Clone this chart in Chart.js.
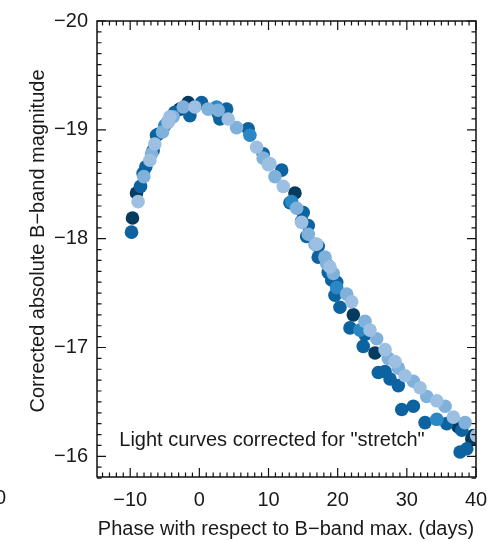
<!DOCTYPE html>
<html lang="en">
  <head>
    <meta charset="UTF-8" />
    <title>Corrected light curves</title>
    <script src="https://cdn.jsdelivr.net/npm/chart.js"></script>
    <style>
      body { margin: 0; background: #fff; }
      canvas { display: block; }
    </style>
  </head>
  <body>
    <canvas id="lcChart" width="500" height="542"></canvas>

    <script>
      // axis ticks
      const xTicks = [-10, 0, 10, 20, 30, 40];
      const yTicks = [-20, -19, -18, -17, -16];

      // phases (days) and magnitudes, one pair of arrays per sample
      const navyPhase = [-9.67, -9.09, -2.82, -1.62, 13.82, 22.26, 25.4, 37.45, 39.39, 39.62];
      const navyMag = [-18.19, -18.42, -19.19, -19.25, -18.42, -17.3, -16.95, -16.27, -16.16, -16.19];

      const darkPhase = [-9.81, -8.51, -8.13, -7.74, -6.69, -6.19, -5.96, -4.56, -3.55, -1.37, 0.32, 2.72,
        2.97, 3.94, 7.06, 9.23, 11.9, 13.1, 14.79, 15.02, 15.51, 15.75, 17.19, 17.19, 18.64, 18.64, 19.13,
        19.36, 19.61, 19.86, 20.33, 21.78, 23.7, 23.95, 25.88, 26.85, 27.57, 28.77, 29.26, 30.94, 32.63,
        35.77, 37.95, 37.7, 38.67];
      const darkMag = [-18.06, -18.48, -18.6, -18.66, -18.81, -18.95, -18.96, -19.07, -19.16, -19.13, -19.25, -19.15,
        -19.1, -19.19, -19.01, -18.78, -18.63, -18.33, -18.16, -18.24, -18.02, -18.12, -17.93, -17.83, -17.75, -17.69, -17.62,
        -17.63, -17.48, -17.6, -17.37, -17.18, -17.01, -17.12, -16.77, -16.78, -16.71, -16.65, -16.43, -16.46, -16.31,
        -16.3, -16.24, -16.04, -16.07];

      const midPhase = [-4.99, 2.49, 7.31, 13.34, 19.86, 23.23, 34.33];
      const midMag = [-19.04, -19.21, -18.95, -18.34, -17.55, -17.16, -16.34];

      const lightPhase = [-8.03, -6.92, -5.33, -3.79, -2.34, 1.27, 2.72, 5.38, 9.23, 10.93, 14.07, 15.75,
        16.71, 18.16, 18.41, 19.36, 21.3, 23.95, 25.64, 27.32, 28.77, 30.94, 32.88, 35.53, 38.42];
      const lightMag = [-18.57, -18.78, -18.98, -19.12, -19.21, -19.19, -19.18, -19.02, -18.74, -18.57, -18.28, -18.04,
        -17.95, -17.83, -17.77, -17.68, -17.49, -17.24, -17.08, -16.9, -16.81, -16.69, -16.55, -16.46, -16.31];

      const palePhase = [-8.86, -7.16, -6.44, -4.52, -4.27, -0.65, 4.17, 8.28, 9.96, 10.2, 12.13, 14.79,
        16.96, 18.89, 22.03, 24.67, 26.85, 28.29, 29.74, 31.91, 34.33, 36.73, 40.1];
      const paleMag = [-18.34, -18.72, -18.87, -19.07, -19.12, -19.21, -19.1, -18.84, -18.68, -18.69, -18.48, -18.15,
        -17.95, -17.74, -17.42, -17.16, -16.98, -16.87, -16.74, -16.63, -16.51, -16.36, -16.19];

      const font = "'Liberation Sans', Arial, sans-serif";
      const minus = (v) => String(v).replace("-", "\u2212");
      const pts = (xs, ys) => xs.map((x, i) => ({ x: x, y: ys[i] }));

      // box, inward ticks (major + minor), titles and the note
      const frame = {
        id: "frame",
        afterDraw(chart) {
          const ctx = chart.ctx;
          const a = chart.chartArea;
          const xs = chart.scales.x;
          const ys = chart.scales.y;
          ctx.save();
          ctx.strokeStyle = "#111";
          ctx.lineWidth = 1.5;
          ctx.strokeRect(a.left, a.top, a.right - a.left, a.bottom - a.top);

          ctx.lineWidth = 1.2;
          ctx.beginPath();
          for (let d = -14; d <= 40; d++) {
            const px = xs.getPixelForValue(d);
            const len = d % 10 === 0 ? 9 : 4.5;
            ctx.moveTo(px, a.bottom); ctx.lineTo(px, a.bottom - len);
            ctx.moveTo(px, a.top); ctx.lineTo(px, a.top + len);
          }
          for (let m = 0; m <= 42; m++) {
            const v = -20 + m / 10;
            const py = ys.getPixelForValue(v);
            const len = m % 10 === 0 ? 9 : 4.5;
            ctx.moveTo(a.left, py); ctx.lineTo(a.left + len, py);
            ctx.moveTo(a.right, py); ctx.lineTo(a.right - len, py);
          }
          ctx.stroke();

          ctx.fillStyle = "#1a1a1a";
          ctx.font = "20px " + font;
          ctx.textAlign = "center";
          ctx.textBaseline = "middle";
          ctx.fillText("Phase with respect to B\u2212band max. (days)", 286, 529);
          ctx.fillText("Light curves corrected for \"stretch\"", 272, 440);
          ctx.textAlign = "left";
          ctx.fillText("0", -5, 498);

          ctx.translate(38, 241);
          ctx.rotate(-Math.PI / 2);
          ctx.textAlign = "center";
          ctx.fillText("Corrected absolute B\u2212band magnitude", 0, 0);
          ctx.restore();
        },
      };

      const series = [
        { label: "pale", xs: palePhase, ys: paleMag, color: "#9dc0e2" },
        { label: "light", xs: lightPhase, ys: lightMag, color: "#80b1da" },
        { label: "mid", xs: midPhase, ys: midMag, color: "#2a88c6" },
        { label: "dark", xs: darkPhase, ys: darkMag, color: "#0c63a0" },
        { label: "navy", xs: navyPhase, ys: navyMag, color: "#063b60" },
      ];

      new Chart(document.getElementById("lcChart"), {
        type: "scatter",
        data: {
          datasets: series.map((s, i) => ({
            label: s.label,
            data: pts(s.xs, s.ys),
            backgroundColor: s.color,
            borderWidth: 0,
            pointRadius: 6.8,
            order: i,
          })),
        },
        options: {
          responsive: false,
          animation: false,
          events: [],
          layout: { autoPadding: false, padding: { top: 16, right: 24, left: 0, bottom: 0 } },
          plugins: { legend: { display: false }, tooltip: { enabled: false } },
          scales: {
            x: {
              type: "linear",
              min: -14.8,
              max: 40,
              afterFit: (s) => { s.height = 65; },
              afterBuildTicks: (s) => { s.ticks = xTicks.map((v) => ({ value: v })); },
              grid: { display: false, drawTicks: false },
              border: { display: false },
              ticks: {
                padding: 11,
                color: "#1a1a1a",
                font: { family: font, size: 20 },
                callback: (v) => minus(v),
              },
            },
            y: {
              type: "linear",
              reverse: true,
              min: -20,
              max: -15.81,
              afterFit: (s) => { s.width = 97; },
              afterBuildTicks: (s) => { s.ticks = yTicks.map((v) => ({ value: v })); },
              grid: { display: false, drawTicks: false },
              border: { display: false },
              ticks: {
                padding: 9,
                color: "#1a1a1a",
                font: { family: font, size: 20 },
                callback: (v) => minus(v),
              },
            },
          },
        },
        plugins: [frame],
      });
    </script>
  </body>
</html>
